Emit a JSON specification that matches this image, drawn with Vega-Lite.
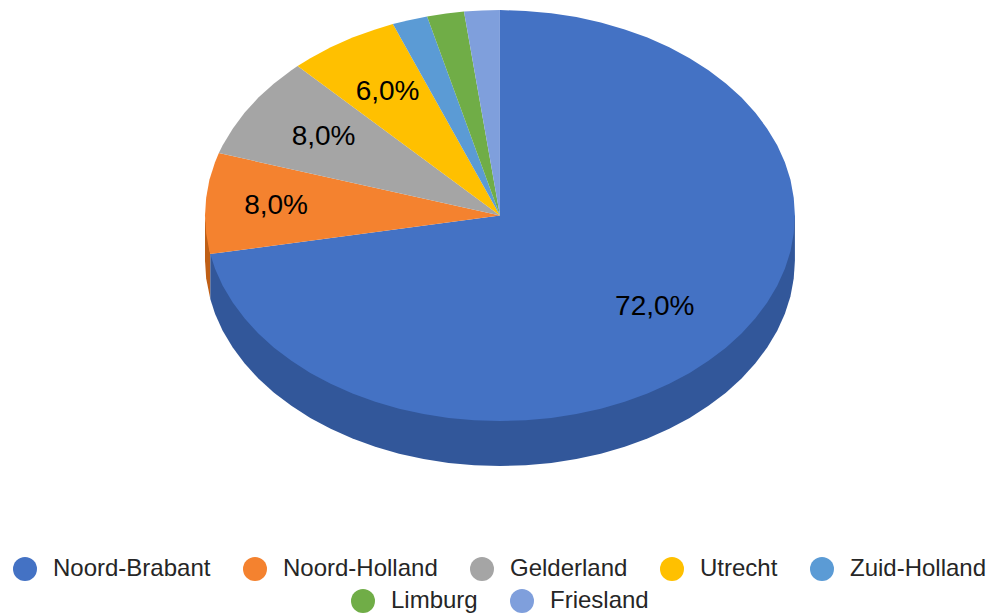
{"$schema":"https://vega.github.io/schema/vega-lite/v6.json","width":989,"height":614,"padding":0,"autosize":{"type":"fit","contains":"padding"},"background":"white","config":{"view":{"stroke":null},"legend":{"orient":"none","direction":"horizontal","columns":5,"gridAlign":"none","title":null,"symbolType":"circle","symbolSize":576,"symbolStrokeWidth":0,"symbolOpacity":1,"labelFont":"Liberation Sans","labelFontSize":24,"labelColor":"#262626","labelOffset":16,"columnPadding":32,"padding":0,"labelLimit":300}},"datasets":{"top":[
{"slice":"Noord-Brabant","step":0,"x":0,"y":0},{"slice":"Noord-Brabant","step":1,"x":0,"y":1},{"slice":"Noord-Brabant","step":2,"x":0.087,"y":0.996},{"slice":"Noord-Brabant","step":3,"x":0.174,"y":0.985},{"slice":"Noord-Brabant","step":4,"x":0.259,"y":0.966},{"slice":"Noord-Brabant","step":5,"x":0.342,"y":0.94},{"slice":"Noord-Brabant","step":6,"x":0.423,"y":0.906},{"slice":"Noord-Brabant","step":7,"x":0.5,"y":0.866},{"slice":"Noord-Brabant","step":8,"x":0.574,"y":0.819},{"slice":"Noord-Brabant","step":9,"x":0.643,"y":0.766},{"slice":"Noord-Brabant","step":10,"x":0.707,"y":0.707},{"slice":"Noord-Brabant","step":11,"x":0.766,"y":0.643},{"slice":"Noord-Brabant","step":12,"x":0.819,"y":0.574},{"slice":"Noord-Brabant","step":13,"x":0.866,"y":0.5},{"slice":"Noord-Brabant","step":14,"x":0.906,"y":0.423},{"slice":"Noord-Brabant","step":15,"x":0.94,"y":0.342},{"slice":"Noord-Brabant","step":16,"x":0.966,"y":0.259},{"slice":"Noord-Brabant","step":17,"x":0.985,"y":0.174},{"slice":"Noord-Brabant","step":18,"x":0.996,"y":0.087},{"slice":"Noord-Brabant","step":19,"x":1,"y":0},{"slice":"Noord-Brabant","step":20,"x":0.996,"y":-0.087},{"slice":"Noord-Brabant","step":21,"x":0.985,"y":-0.174},{"slice":"Noord-Brabant","step":22,"x":0.966,"y":-0.259},{"slice":"Noord-Brabant","step":23,"x":0.94,"y":-0.342},{"slice":"Noord-Brabant","step":24,"x":0.906,"y":-0.423},{"slice":"Noord-Brabant","step":25,"x":0.866,"y":-0.5},{"slice":"Noord-Brabant","step":26,"x":0.819,"y":-0.574},{"slice":"Noord-Brabant","step":27,"x":0.766,"y":-0.643},{"slice":"Noord-Brabant","step":28,"x":0.707,"y":-0.707},{"slice":"Noord-Brabant","step":29,"x":0.643,"y":-0.766},{"slice":"Noord-Brabant","step":30,"x":0.574,"y":-0.819},{"slice":"Noord-Brabant","step":31,"x":0.5,"y":-0.866},{"slice":"Noord-Brabant","step":32,"x":0.423,"y":-0.906},{"slice":"Noord-Brabant","step":33,"x":0.342,"y":-0.94},{"slice":"Noord-Brabant","step":34,"x":0.259,"y":-0.966},{"slice":"Noord-Brabant","step":35,"x":0.174,"y":-0.985},{"slice":"Noord-Brabant","step":36,"x":0.087,"y":-0.996},{"slice":"Noord-Brabant","step":37,"x":0,"y":-1},{"slice":"Noord-Brabant","step":38,"x":-0.087,"y":-0.996},{"slice":"Noord-Brabant","step":39,"x":-0.174,"y":-0.985},{"slice":"Noord-Brabant","step":40,"x":-0.259,"y":-0.966},{"slice":"Noord-Brabant","step":41,"x":-0.342,"y":-0.94},{"slice":"Noord-Brabant","step":42,"x":-0.423,"y":-0.906},{"slice":"Noord-Brabant","step":43,"x":-0.5,"y":-0.866},{"slice":"Noord-Brabant","step":44,"x":-0.574,"y":-0.819},{"slice":"Noord-Brabant","step":45,"x":-0.643,"y":-0.766},{"slice":"Noord-Brabant","step":46,"x":-0.707,"y":-0.707},{"slice":"Noord-Brabant","step":47,"x":-0.766,"y":-0.643},{"slice":"Noord-Brabant","step":48,"x":-0.819,"y":-0.574},{"slice":"Noord-Brabant","step":49,"x":-0.866,"y":-0.5},{"slice":"Noord-Brabant","step":50,"x":-0.906,"y":-0.423},{"slice":"Noord-Brabant","step":51,"x":-0.94,"y":-0.342},{"slice":"Noord-Brabant","step":52,"x":-0.966,"y":-0.259},{"slice":"Noord-Brabant","step":53,"x":-0.982,"y":-0.187},
{"slice":"Noord-Holland","step":0,"x":0,"y":0},{"slice":"Noord-Holland","step":1,"x":-0.982,"y":-0.187},{"slice":"Noord-Holland","step":2,"x":-0.985,"y":-0.174},{"slice":"Noord-Holland","step":3,"x":-0.996,"y":-0.087},{"slice":"Noord-Holland","step":4,"x":-1,"y":0},{"slice":"Noord-Holland","step":5,"x":-0.996,"y":0.087},{"slice":"Noord-Holland","step":6,"x":-0.985,"y":0.174},{"slice":"Noord-Holland","step":7,"x":-0.966,"y":0.259},{"slice":"Noord-Holland","step":8,"x":-0.953,"y":0.304},
{"slice":"Gelderland","step":0,"x":0,"y":0},{"slice":"Gelderland","step":1,"x":-0.953,"y":0.304},{"slice":"Gelderland","step":2,"x":-0.94,"y":0.342},{"slice":"Gelderland","step":3,"x":-0.906,"y":0.423},{"slice":"Gelderland","step":4,"x":-0.866,"y":0.5},{"slice":"Gelderland","step":5,"x":-0.819,"y":0.574},{"slice":"Gelderland","step":6,"x":-0.766,"y":0.643},{"slice":"Gelderland","step":7,"x":-0.707,"y":0.707},{"slice":"Gelderland","step":8,"x":-0.686,"y":0.728},
{"slice":"Utrecht","step":0,"x":0,"y":0},{"slice":"Utrecht","step":1,"x":-0.686,"y":0.728},{"slice":"Utrecht","step":2,"x":-0.643,"y":0.766},{"slice":"Utrecht","step":3,"x":-0.574,"y":0.819},{"slice":"Utrecht","step":4,"x":-0.5,"y":0.866},{"slice":"Utrecht","step":5,"x":-0.423,"y":0.906},{"slice":"Utrecht","step":6,"x":-0.363,"y":0.932},
{"slice":"Zuid-Holland","step":0,"x":0,"y":0},{"slice":"Zuid-Holland","step":1,"x":-0.363,"y":0.932},{"slice":"Zuid-Holland","step":2,"x":-0.309,"y":0.951},{"slice":"Zuid-Holland","step":3,"x":-0.247,"y":0.969},
{"slice":"Limburg","step":0,"x":0,"y":0},{"slice":"Limburg","step":1,"x":-0.247,"y":0.969},{"slice":"Limburg","step":2,"x":-0.182,"y":0.983},{"slice":"Limburg","step":3,"x":-0.122,"y":0.993},
{"slice":"Friesland","step":0,"x":0,"y":0},{"slice":"Friesland","step":1,"x":-0.122,"y":0.993},{"slice":"Friesland","step":2,"x":-0.061,"y":0.998},{"slice":"Friesland","step":3,"x":0,"y":1}
],"side":[
{"slice":"Noord-Holland","step":0,"x":-0.982,"y":-0.187},{"slice":"Noord-Holland","step":1,"x":-0.982,"y":-0.406},{"slice":"Noord-Holland","step":2,"x":-0.996,"y":-0.306},{"slice":"Noord-Holland","step":3,"x":-1,"y":-0.219},{"slice":"Noord-Holland","step":4,"x":-1,"y":0},
{"slice":"Noord-Brabant","step":0,"x":1,"y":0},{"slice":"Noord-Brabant","step":1,"x":1,"y":-0.219},{"slice":"Noord-Brabant","step":2,"x":0.996,"y":-0.306},{"slice":"Noord-Brabant","step":3,"x":0.985,"y":-0.393},{"slice":"Noord-Brabant","step":4,"x":0.966,"y":-0.478},{"slice":"Noord-Brabant","step":5,"x":0.94,"y":-0.561},{"slice":"Noord-Brabant","step":6,"x":0.906,"y":-0.642},{"slice":"Noord-Brabant","step":7,"x":0.866,"y":-0.719},{"slice":"Noord-Brabant","step":8,"x":0.819,"y":-0.793},{"slice":"Noord-Brabant","step":9,"x":0.766,"y":-0.862},{"slice":"Noord-Brabant","step":10,"x":0.707,"y":-0.926},{"slice":"Noord-Brabant","step":11,"x":0.643,"y":-0.985},{"slice":"Noord-Brabant","step":12,"x":0.574,"y":-1.038},{"slice":"Noord-Brabant","step":13,"x":0.5,"y":-1.085},{"slice":"Noord-Brabant","step":14,"x":0.423,"y":-1.125},{"slice":"Noord-Brabant","step":15,"x":0.342,"y":-1.159},{"slice":"Noord-Brabant","step":16,"x":0.259,"y":-1.185},{"slice":"Noord-Brabant","step":17,"x":0.174,"y":-1.204},{"slice":"Noord-Brabant","step":18,"x":0.087,"y":-1.215},{"slice":"Noord-Brabant","step":19,"x":0,"y":-1.219},{"slice":"Noord-Brabant","step":20,"x":-0.087,"y":-1.215},{"slice":"Noord-Brabant","step":21,"x":-0.174,"y":-1.204},{"slice":"Noord-Brabant","step":22,"x":-0.259,"y":-1.185},{"slice":"Noord-Brabant","step":23,"x":-0.342,"y":-1.159},{"slice":"Noord-Brabant","step":24,"x":-0.423,"y":-1.125},{"slice":"Noord-Brabant","step":25,"x":-0.5,"y":-1.085},{"slice":"Noord-Brabant","step":26,"x":-0.574,"y":-1.038},{"slice":"Noord-Brabant","step":27,"x":-0.643,"y":-0.985},{"slice":"Noord-Brabant","step":28,"x":-0.707,"y":-0.926},{"slice":"Noord-Brabant","step":29,"x":-0.766,"y":-0.862},{"slice":"Noord-Brabant","step":30,"x":-0.819,"y":-0.793},{"slice":"Noord-Brabant","step":31,"x":-0.866,"y":-0.719},{"slice":"Noord-Brabant","step":32,"x":-0.906,"y":-0.642},{"slice":"Noord-Brabant","step":33,"x":-0.94,"y":-0.561},{"slice":"Noord-Brabant","step":34,"x":-0.966,"y":-0.478},{"slice":"Noord-Brabant","step":35,"x":-0.982,"y":-0.406},{"slice":"Noord-Brabant","step":36,"x":-0.982,"y":-0.187}
],"labels":[{"slice":"Noord-Brabant","share":"72,0%","x":0.525,"y":-0.445},{"slice":"Noord-Holland","share":"8,0%","x":-0.759,"y":0.046},{"slice":"Gelderland","share":"8,0%","x":-0.598,"y":0.382},{"slice":"Utrecht","share":"6,0%","x":-0.381,"y":0.601}]},
"encoding":{"x":{"field":"x","type":"quantitative","axis":null,"scale":{"domain":[-1.695,1.658],"nice":false,"zero":false}},"y":{"field":"y","type":"quantitative","axis":null,"scale":{"domain":[-1.939,1.049],"nice":false,"zero":false}}},
"layer":[
{"data":{"name":"side"},"mark":{"type":"line","filled":true,"clip":false},"encoding":{"order":{"field":"step","type":"quantitative"},"color":{"field":"slice","type":"nominal","legend":null,"scale":{"domain":["Noord-Brabant","Noord-Holland"],"range":["#32579A","#BF5F16"]}}}},
{"data":{"name":"top"},"transform":[{"filter":"indexof(['Limburg','Friesland'], datum.slice) < 0"}],"mark":{"type":"line","filled":true},"encoding":{"order":{"field":"step","type":"quantitative"},"color":{"field":"slice","type":"nominal","scale":{"domain":["Noord-Brabant","Noord-Holland","Gelderland","Utrecht","Zuid-Holland"],"range":["#4472C4","#F4822F","#A5A5A5","#FFC000","#5B9BD5"]},"legend":{"legendX":13,"legendY":557}}}},
{"data":{"name":"top"},"transform":[{"filter":"indexof(['Limburg','Friesland'], datum.slice) >= 0"}],"mark":{"type":"line","filled":true},"encoding":{"order":{"field":"step","type":"quantitative"},"color":{"field":"slice","type":"nominal","scale":{"domain":["Limburg","Friesland"],"range":["#70AD47","#7F9FDC"]},"legend":{"legendX":351,"legendY":589}}}},
{"data":{"name":"labels"},"mark":{"type":"text","font":"Liberation Sans","fontSize":28,"color":"#000000","align":"center","baseline":"middle"},"encoding":{"text":{"field":"share","type":"nominal"}}}
],"resolve":{"scale":{"color":"independent"}}}
